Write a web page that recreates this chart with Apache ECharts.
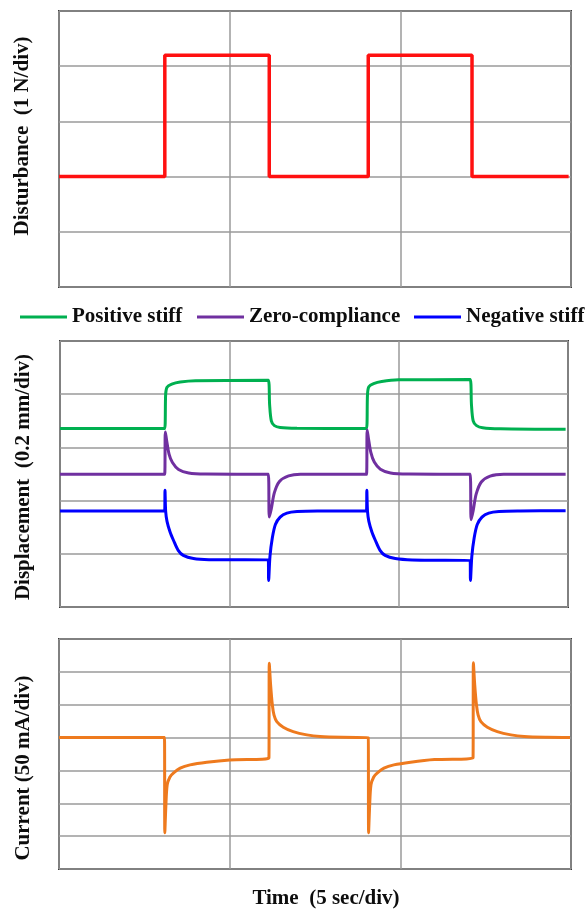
<!DOCTYPE html>
<html>
<head>
<meta charset="utf-8">
<script src="https://cdn.jsdelivr.net/npm/echarts@6/dist/echarts.min.js"></script>
<style>html,body{margin:0;padding:0;background:#fff;}#c{width:588px;height:911px;}</style>
</head>
<body>
<div id="c"></div>
<script>
// Time ticks (s), 5 sec/div
const timeTicks = [0, 5, 10, 15];

// Disturbance (N), 1 N/div
const disturbance = [[0,0],[3.1,0],[3.1,2.2],[6.16,2.2],[6.16,0],[9.06,0],[9.06,2.2],[12.1,2.2],[12.1,0],[14.93,0]];

// Displacement (mm), 0.2 mm/div
const positiveStiff = [[0,0.671],[3.09,0.671],[3.12,0.80],[3.16,0.826],[3.3,0.838],[3.55,0.846],[4.0,0.851],[6.15,0.852],[6.19,0.76],[6.24,0.70],[6.33,0.682],[6.5,0.675],[7.0,0.672],[9.05,0.671],[9.08,0.80],[9.12,0.828],[9.26,0.840],[9.5,0.848],[10.0,0.854],[12.11,0.855],[12.15,0.76],[12.2,0.70],[12.3,0.682],[12.48,0.674],[13.0,0.670],[14.93,0.668]];
const zeroCompliance = [[0,0.499],[3.09,0.499],[3.11,0.658],[3.15,0.625],[3.22,0.575],[3.32,0.543],[3.5,0.517],[3.8,0.504],[4.3,0.500],[6.15,0.499],[6.18,0.338],[6.24,0.370],[6.33,0.430],[6.48,0.472],[6.75,0.493],[7.1,0.499],[9.05,0.499],[9.07,0.665],[9.11,0.632],[9.18,0.580],[9.28,0.545],[9.46,0.518],[9.76,0.504],[10.3,0.500],[12.11,0.499],[12.14,0.328],[12.2,0.362],[12.29,0.425],[12.44,0.470],[12.7,0.492],[13.1,0.499],[14.93,0.499]];
const negativeStiff = [[0,0.361],[3.09,0.361],[3.1,0.439],[3.12,0.36],[3.16,0.322],[3.25,0.282],[3.35,0.251],[3.49,0.213],[3.64,0.194],[3.94,0.182],[4.4,0.178],[6.15,0.177],[6.16,0.100],[6.2,0.19],[6.27,0.26],[6.36,0.31],[6.5,0.338],[6.7,0.353],[7.0,0.359],[7.6,0.361],[9.05,0.361],[9.06,0.439],[9.08,0.36],[9.12,0.322],[9.21,0.282],[9.31,0.251],[9.45,0.213],[9.6,0.194],[9.9,0.182],[10.4,0.177],[12.11,0.175],[12.12,0.100],[12.16,0.19],[12.23,0.26],[12.32,0.31],[12.46,0.338],[12.66,0.353],[12.96,0.359],[13.6,0.361],[14.93,0.362]];

// Current (mA), 50 mA/div
const current = [[0,0],[3.09,0],[3.1,-145],[3.13,-105],[3.17,-72],[3.25,-60],[3.35,-54],[3.55,-46.5],[3.84,-41.5],[4.33,-37.4],[5.0,-34],[6.15,-31.3],[6.16,113],[6.2,80],[6.25,50],[6.3,34],[6.38,24.3],[6.57,15.8],[6.86,9.1],[7.26,4.1],[7.65,1.5],[8.3,0.3],[9.06,0],[9.07,-145],[9.1,-105],[9.14,-72],[9.22,-60],[9.32,-54],[9.52,-46.5],[9.81,-41.5],[10.3,-37.4],[11.0,-33.5],[12.13,-31],[12.14,114],[12.18,80],[12.23,50],[12.28,34],[12.36,24.3],[12.55,15.8],[12.84,9.1],[13.24,4.1],[13.63,1.5],[14.3,0.3],[14.97,0]];

const seriesNames = ['Positive stiff', 'Zero-compliance', 'Negative stiff'];
const yTitles = ['Disturbance  (1 N/div)', 'Displacement  (0.2 mm/div)', 'Current (50 mA/div)'];
const xTitle = 'Time  (5 sec/div)';

const FONT = '"Liberation Serif", "Times New Roman", serif';
const gridLine = { show: true, lineStyle: { color: '#9a9a9a', width: 1.5 } };

function xAx(i) {
  return { type: 'value', gridIndex: i, min: timeTicks[0], max: timeTicks[timeTicks.length-1], interval: timeTicks[1]-timeTicks[0],
    axisLabel: { show: false }, axisTick: { show: false }, axisLine: { show: false }, splitLine: gridLine };
}
function yAx(i, min, max, interval) {
  return { type: 'value', gridIndex: i, min: min, max: max, interval: interval,
    axisLabel: { show: false }, axisTick: { show: false }, axisLine: { show: false }, splitLine: gridLine };
}
const gridBase = { show: true, borderColor: '#3a3a3a', borderWidth: 2, backgroundColor: '#fff' };

function legendAt(name, left) {
  return { data: [name], left: left, top: 306, padding: 0, icon: 'rect', itemWidth: 47, itemHeight: 3,
    selectedMode: false,
    textStyle: { fontFamily: FONT, fontWeight: 'bold', fontSize: 21, color: '#0d0d0d', lineHeight: 22 } };
}
function vText(text, x, y) {
  return { type: 'text', x: x, y: y, rotation: Math.PI/2,
    style: { text: text, fontFamily: FONT, fontWeight: 'bold', fontSize: 21, fill: '#0d0d0d', align: 'center', verticalAlign: 'middle' } };
}

const chart = echarts.init(document.getElementById('c'), null, { renderer: 'canvas' });
chart.setOption({
  animation: false,
  backgroundColor: '#fff',
  grid: [
    Object.assign({ left: 59, right: 17, top: 11, height: 276 }, gridBase),
    Object.assign({ left: 60, right: 20, top: 341, height: 266 }, gridBase),
    Object.assign({ left: 59, right: 17, top: 639, height: 230 }, gridBase)
  ],
  xAxis: [xAx(0), xAx(1), xAx(2)],
  yAxis: [yAx(0, -2, 3, 1), yAx(1, 0, 1.0, 0.2), yAx(2, -200, 150, 50)],
  legend: [legendAt(seriesNames[0], 20), legendAt(seriesNames[1], 197), legendAt(seriesNames[2], 414)],
  graphic: [
    vText(yTitles[0], 23, 136),
    vText(yTitles[1], 24, 477),
    vText(yTitles[2], 24, 768),
    { type: 'text', x: 326, y: 899,
      style: { text: xTitle, fontFamily: FONT, fontWeight: 'bold', fontSize: 21, fill: '#0d0d0d', align: 'center', verticalAlign: 'middle' } }
  ],
  series: [
    { name: 'Disturbance', type: 'line', xAxisIndex: 0, yAxisIndex: 0, data: disturbance, showSymbol: false, symbol: 'none',
      lineStyle: { color: '#ff1010', width: 3.5 }, itemStyle: { color: '#ff1010' } },
    { name: seriesNames[0], type: 'line', xAxisIndex: 1, yAxisIndex: 1, data: positiveStiff, symbol: 'none', smooth: 0.3,
      lineStyle: { color: '#00b050', width: 3 }, itemStyle: { color: '#00b050' } },
    { name: seriesNames[1], type: 'line', xAxisIndex: 1, yAxisIndex: 1, data: zeroCompliance, symbol: 'none', smooth: 0.3,
      lineStyle: { color: '#7030a0', width: 3 }, itemStyle: { color: '#7030a0' } },
    { name: seriesNames[2], type: 'line', xAxisIndex: 1, yAxisIndex: 1, data: negativeStiff, symbol: 'none', smooth: 0.3,
      lineStyle: { color: '#0000ff', width: 3 }, itemStyle: { color: '#0000ff' } },
    { name: 'Current', type: 'line', xAxisIndex: 2, yAxisIndex: 2, data: current, symbol: 'none', smooth: 0.3,
      lineStyle: { color: '#ee7a1e', width: 3 }, itemStyle: { color: '#ee7a1e' } }
  ]
});
</script>
</body>
</html>
